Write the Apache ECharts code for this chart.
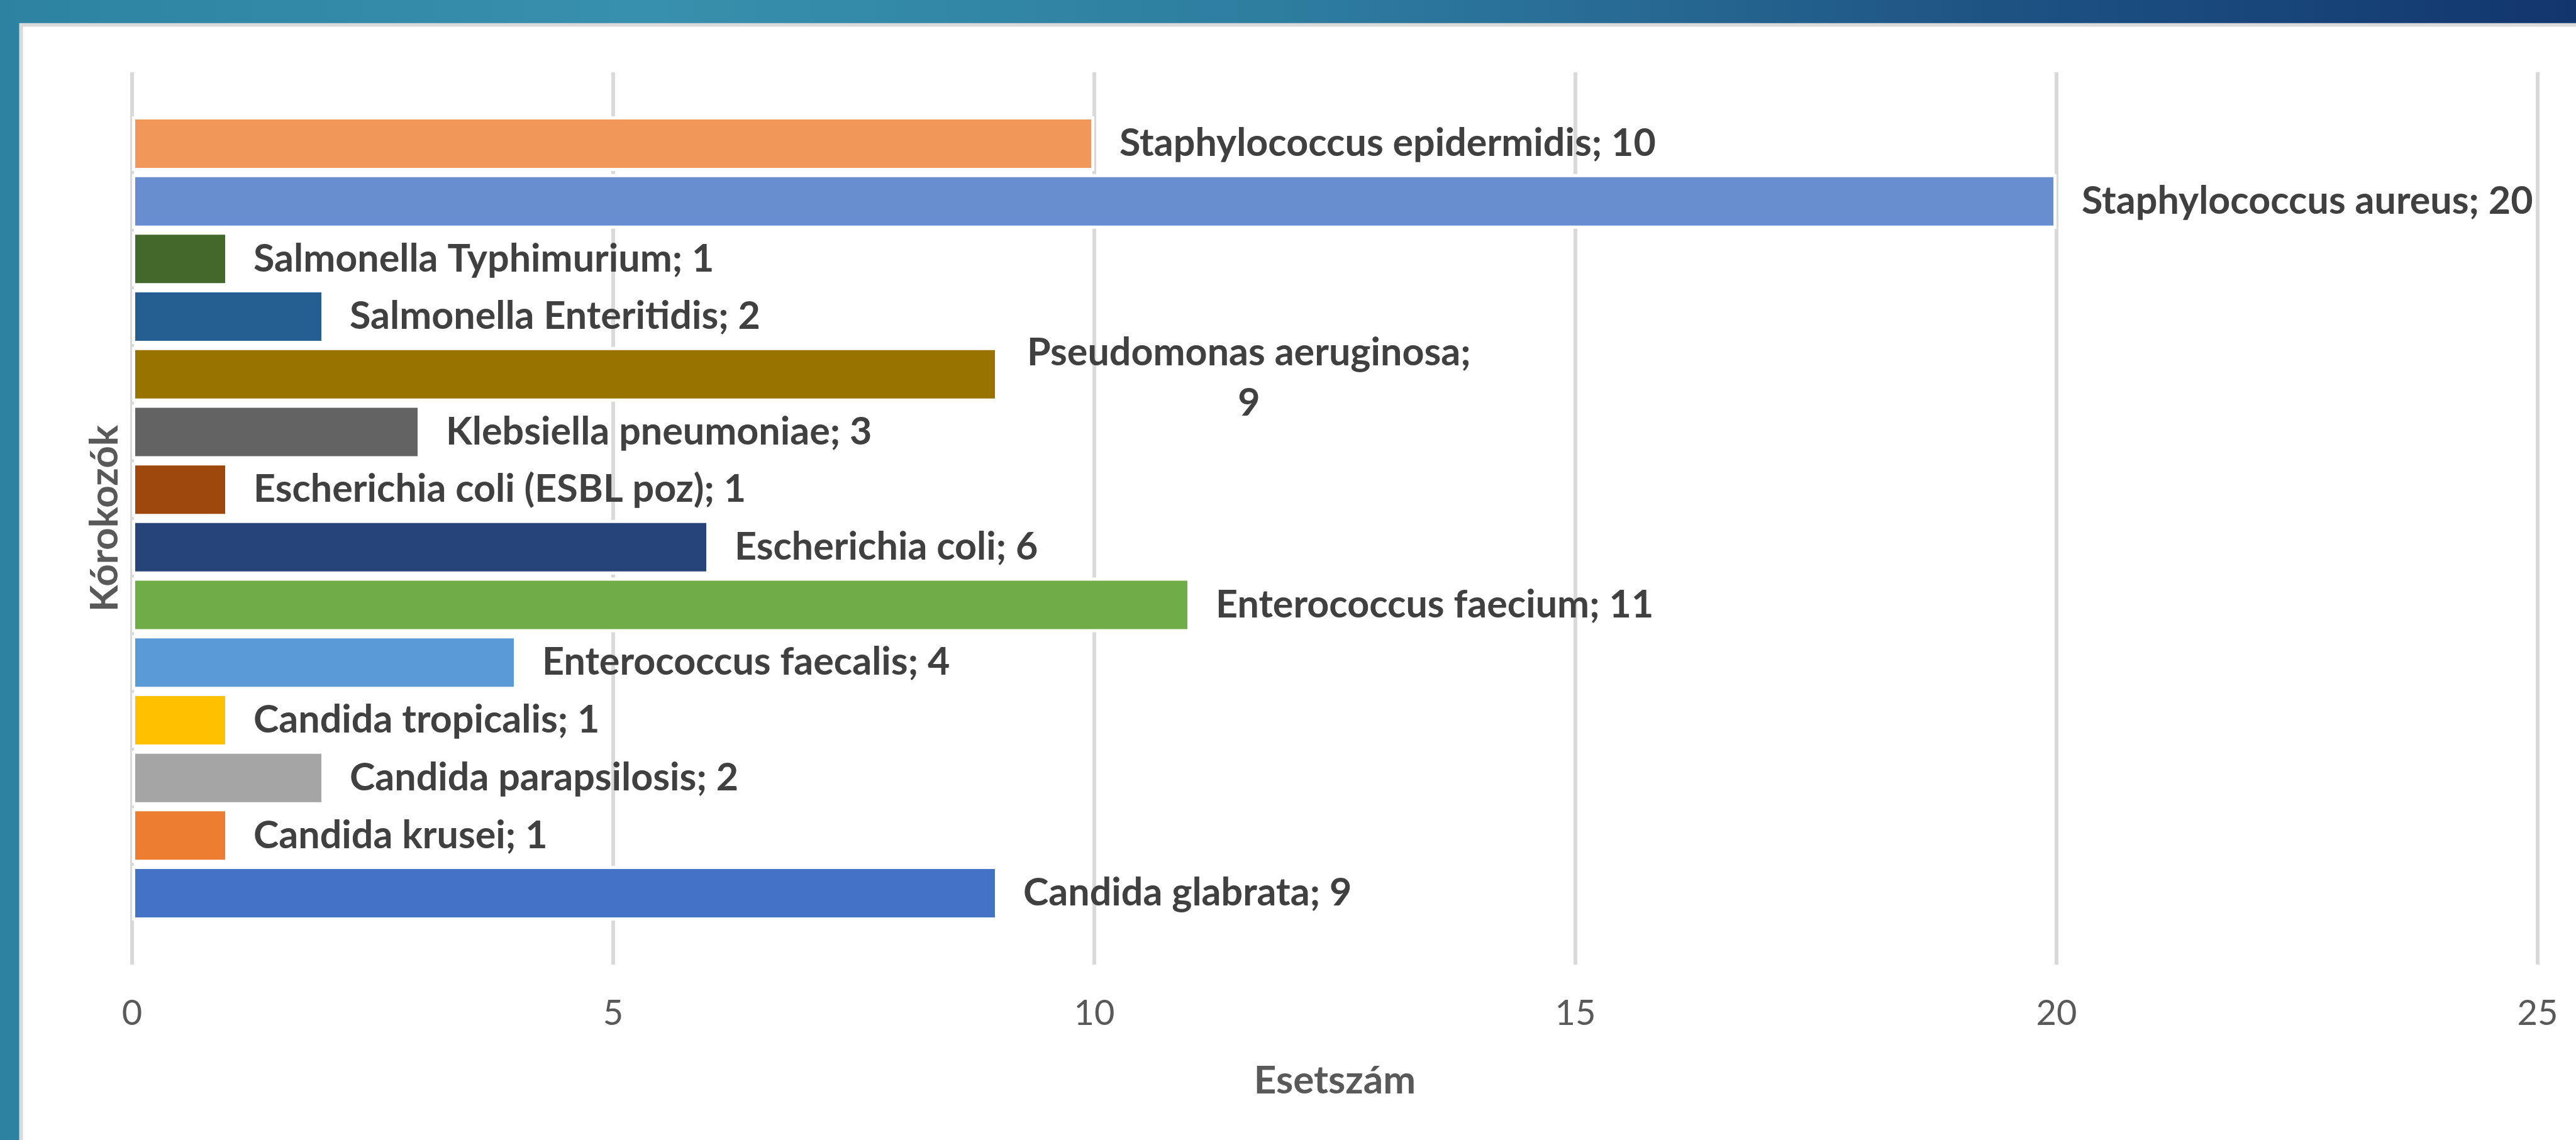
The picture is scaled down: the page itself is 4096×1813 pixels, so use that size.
<!DOCTYPE html>
<html>
<head>
<meta charset="utf-8">
<script src="https://cdn.jsdelivr.net/npm/echarts@6/dist/echarts.min.js"></script>
<style>
html, body { margin: 0; padding: 0; background: #fff; }
#main { width: 4096px; height: 1813px; }
</style>
</head>
<body>
<div id="main"></div>
<script>
// adatsorok (Excel sorrend: alulrol felfele)
var names = ['Candida glabrata', 'Candida krusei', 'Candida parapsilosis', 'Candida tropicalis',
	'Enterococcus faecalis', 'Enterococcus faecium', 'Escherichia coli', 'Escherichia coli (ESBL poz)',
	'Klebsiella pneumoniae', 'Pseudomonas aeruginosa', 'Salmonella Enteritidis', 'Salmonella Typhimurium',
	'Staphylococcus aureus', 'Staphylococcus epidermidis'];
var values = [9, 1, 2, 1, 4, 11, 6, 1, 3, 9, 2, 1, 20, 10];
var colors = ['#4472c4', '#ed7d31', '#a5a5a5', '#ffc000', '#5b9bd5', '#70ad47', '#264478',
	'#9e480e', '#636363', '#997300', '#255e91', '#43682b', '#698ed0', '#f1975a'];
var xTicks = [0, 5, 10, 15, 20, 25];
var wrapped = ['Pseudomonas aeruginosa'];

var FONT = 'Lato';
var W = 4096, H = 1813;

var myChart = echarts.init(document.getElementById('main'));

var series = [];
// az elso sorozat kerul felulre, ezert visszafele
for (var i = names.length - 1; i >= 0; i--) {
	var isWrap = wrapped.indexOf(names[i]) >= 0;
	series.push({
		name: names[i],
		type: 'bar',
		data: [values[i]],
		barWidth: 87,
		barGap: '5.4%',
		itemStyle: { color: colors[i], borderColor: '#fff', borderWidth: 5 },
		label: {
			show: true,
			position: 'right',
			distance: isWrap ? 46 : 40,
			fontFamily: FONT,
			fontWeight: 'bold',
			fontSize: 61,
			color: '#404040',
			padding: isWrap ? [12, 0, 0, 0] : 0,
			formatter: isWrap ? '{c|{a};}\n{c|{c}}' : '{a}; {c}',
			rich: isWrap ? { c: { align: 'center', fontFamily: FONT, fontWeight: 'bold', fontSize: 61, color: '#404040', lineHeight: 80 } } : undefined
		}
	});
}

option = {
	animation: false,
	backgroundColor: '#fff',
	graphic: [
		{
			type: 'rect', silent: true, z: -10,
			shape: { x: 0, y: 0, width: W, height: H },
			style: {
				fill: new echarts.graphic.LinearGradient(0, 0, 1, 0, [
					{ offset: 0, color: '#2d82a2' },
					{ offset: 0.25, color: '#3790ad' },
					{ offset: 0.5, color: '#2d7d9f' },
					{ offset: 0.62, color: '#286c94' },
					{ offset: 0.78, color: '#1d5283' },
					{ offset: 0.9, color: '#174379' },
					{ offset: 1, color: '#12356e' }
				])
			}
		},
		{
			type: 'rect', silent: true, z: -9,
			shape: { x: 30.5, y: 36.8, width: W, height: H },
			style: { fill: '#d9d9d9' }
		},
		{
			type: 'rect', silent: true, z: -8,
			shape: { x: 36.5, y: 42.5, width: W, height: H },
			style: { fill: '#ffffff' }
		}
	],
	grid: {
		left: 210,
		right: 61,
		top: 115,
		bottom: 279,
		containLabel: false
	},
	xAxis: {
		type: 'value',
		min: xTicks[0],
		max: xTicks[xTicks.length - 1],
		interval: xTicks[1] - xTicks[0],
		name: 'Esetszám',
		nameLocation: 'middle',
		nameGap: 154,
		nameTextStyle: { fontFamily: FONT, fontWeight: 'bold', fontSize: 62, color: '#595959' },
		axisLine: { show: false },
		axisTick: { show: false },
		axisLabel: { fontFamily: FONT, fontSize: 56, color: '#595959', margin: 50 },
		splitLine: { show: true, lineStyle: { color: '#d9d9d9', width: 6 } }
	},
	yAxis: {
		type: 'category',
		data: [''],
		name: 'Kórokozók',
		nameLocation: 'middle',
		nameGap: 12,
		nameRotate: 90,
		nameTextStyle: { fontFamily: FONT, fontWeight: 'bold', fontSize: 62, color: '#595959' },
		axisLine: { show: false },
		axisTick: { show: false },
		axisLabel: { show: false },
		splitLine: { show: false }
	},
	series: series
};

myChart.setOption(option);
</script>
</body>
</html>
